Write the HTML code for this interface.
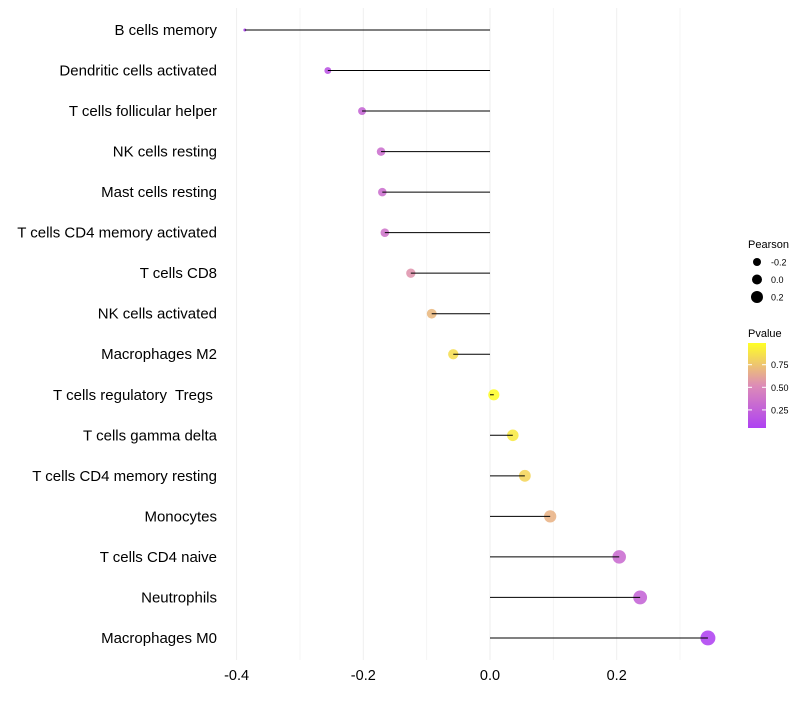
<!DOCTYPE html>
<html><head><meta charset="utf-8"><style>
body{margin:0;background:#fff;font-family:"Liberation Sans",sans-serif}
</style></head><body>
<svg id="c" width="800" height="700" xmlns="http://www.w3.org/2000/svg"></svg>
<script>
const categories=["B cells memory","Dendritic cells activated","T cells follicular helper","NK cells resting","Mast cells resting","T cells CD4 memory activated","T cells CD8","NK cells activated","Macrophages M2","T cells regulatory  Tregs ","T cells gamma delta","T cells CD4 memory resting","Monocytes","T cells CD4 naive","Neutrophils","Macrophages M0"];
const pearson=[-0.387,-0.256,-0.202,-0.172,-0.170,-0.166,-0.125,-0.092,-0.058,0.006,0.036,0.055,0.095,0.204,0.237,0.344];
const pvalue=[0.05,0.17,0.28,0.34,0.34,0.37,0.55,0.7,0.85,0.98,0.9,0.82,0.68,0.32,0.27,0.06];
const xTicks=[-0.4,-0.2,0.0,0.2];
const xMinor=[-0.3,-0.1,0.1,0.3];
const sizeLegend=[-0.2,0.0,0.2];
const pLegend=[0.25,0.50,0.75];
const NS="http://www.w3.org/2000/svg";
const svg=document.getElementById('c');
const x=v=>490+v*633.5;
const y=i=>30+i*40.53;
const r=v=>Math.sqrt(Math.max(0,2.25+73.5*(v+0.387)));
const stops=[[160,32,240],[215,120,170],[255,255,0]];
const col=p=>{let t=Math.max(0,Math.min(1,(p-0.05)/0.94));let a,b,u;if(t<0.5){a=stops[0];b=stops[1];u=t*2;}else{a=stops[1];b=stops[2];u=(t-0.5)*2;}
return `rgb(${Math.round(a[0]+(b[0]-a[0])*u)},${Math.round(a[1]+(b[1]-a[1])*u)},${Math.round(a[2]+(b[2]-a[2])*u)})`;};
function mk(tag,attrs,text){const e=document.createElementNS(NS,tag);for(const k in attrs)e.setAttribute(k,attrs[k]);if(text!==undefined)e.textContent=text;svg.appendChild(e);return e;}
xMinor.forEach(v=>{const e=mk('line',{x1:x(v),x2:x(v),y1:8,y2:660,stroke:'#f5f5f5','stroke-width':1});

});
xTicks.forEach(v=>{const e=mk('line',{x1:x(v),x2:x(v),y1:8,y2:660,stroke:'#eeeeee','stroke-width':1});


const t=mk('text',{x:x(v),y:680,'font-size':14.5,'text-anchor':'middle',fill:'#000'},v.toFixed(1));

});
categories.forEach((c,i)=>{
const d=mk('circle',{cx:x(pearson[i]),cy:y(i),r:r(pearson[i]),fill:col(pvalue[i]),'fill-opacity':0.75});


const l=mk('line',{x1:x(0),x2:x(pearson[i]),y1:y(i),y2:y(i),stroke:'#000','stroke-width':1});


const t=mk('text',{x:217,y:y(i)+5,'font-size':15,'text-anchor':'end',fill:'#000'},c);
t.setAttribute('style','white-space:pre');


});
let t=mk('text',{x:748,y:248,'font-size':11},'Pearson');


sizeLegend.forEach((v,i)=>{const cy=262+i*17.5;
const c=mk('circle',{cx:757,cy:cy,r:5+5*v,fill:'#000'});


const tt=mk('text',{x:771,y:cy+3.5,'font-size':9},v.toFixed(1));

});
t=mk('text',{x:748,y:337,'font-size':11},'Pvalue');


const defs=mk('defs',{});
const g=document.createElementNS(NS,'linearGradient');g.setAttribute('id','pg');g.setAttribute('x1','0');g.setAttribute('y1','1');g.setAttribute('x2','0');g.setAttribute('y2','0');
[0,0.25,0.5,0.75,1].forEach(s=>{const st=document.createElementNS(NS,'stop');st.setAttribute('offset',s);st.setAttribute('stop-color',col(0.05+0.94*s));g.appendChild(st);});
defs.appendChild(g);
const bar=mk('rect',{x:748,y:343,width:18,height:85,fill:'url(#pg)','fill-opacity':0.85});


const py=p=>428-(p-0.05)/0.94*85;
pLegend.forEach(p=>{
const a=mk('line',{x1:748,x2:752,y1:py(p),y2:py(p),stroke:'#fff'});


const b=mk('line',{x1:762,x2:766,y1:py(p),y2:py(p),stroke:'#fff'});


const tt=mk('text',{x:771,y:py(p)+3.5,'font-size':9},p.toFixed(2));

});
</script>
</body></html>
